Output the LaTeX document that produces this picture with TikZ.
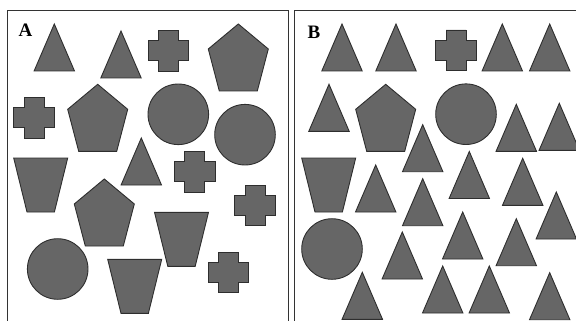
\documentclass[tikz,border=0pt]{standalone}
\usepackage{fontspec}
\setmainfont{Liberation Serif}
\usepackage{xcolor}
\usepackage{tikz}
\definecolor{ShapeFill}{HTML}{666666}
\definecolor{ShapeEdge}{HTML}{2E2E2E}
\definecolor{FrameEdge}{HTML}{333333}
\tikzset{
  figure/.style={draw=ShapeEdge,fill=ShapeFill,line width=0.9pt,line join=miter},
  frame/.style={draw=FrameEdge,line width=1pt},
  panel/.style={font=\fontsize{19}{19}\selectfont\bfseries,inner sep=0pt},
  tri/.pic={\path[figure] (0,0) -- (-20.2,47) -- (20.2,47) -- cycle;},
  plus/.pic={\path[figure] (-10,-20.3) -- (10,-20.3) -- (10,-10) -- (20.3,-10) -- (20.3,10)
    -- (10,10) -- (10,20.3) -- (-10,20.3) -- (-10,10) -- (-20.3,10) -- (-20.3,-10)
    -- (-10,-10) -- cycle;},
  penta/.pic={\path[figure] (0,0) -- (30,25) -- (19,67) -- (-19,67) -- (-30,25) -- cycle;},
  trap/.pic={\path[figure] (-27,0) -- (27,0) -- (13.7,54) -- (-13.7,54) -- cycle;},
  disc/.pic={\path[figure] (0,0) circle (30.3);}
}

\begin{document}
\begin{tikzpicture}[x=1pt,y=-1pt]
  \useasboundingbox (0,0) rectangle (576,321);
  % frames
  \draw[frame] (7.3,321) -- (7.3,10.7) -- (288.7,10.7) -- (288.7,321);
  \draw[frame] (294.7,321) -- (294.7,10.7) -- (577,10.7);
  \node[panel] (labA) at (25.5,30.5) {A};
  \node[panel] (labB) at (314,32.5) {B};
  % panel A
  \pic at (54.3,24) {tri};
  \pic at (121,31) {tri};
  \pic at (168.3,50.7) {plus};
  \pic at (238.3,24) {penta};
  \pic at (34.2,117.8) {plus};
  \pic at (97.7,84.3) {penta};
  \pic at (178.3,114.3) {disc};
  \pic at (245,134.7) {disc};
  \pic at (40.7,158) {trap};
  \pic at (141.3,138) {tri};
  \pic at (194.8,171.8) {plus};
  \pic at (255.2,205.5) {plus};
  \pic at (104.3,179) {penta};
  \pic at (181.5,212.3) {trap};
  \pic at (57.7,269) {disc};
  \pic at (134.7,259.3) {trap};
  \pic at (228.3,272.5) {plus};
  % panel B
  \foreach \x/\y in {342/24,396/24,502.3/24,549.7/24,329/84.3,516.3/104.3,559.3/103.3,
    422.7/124.7,375.7/165,469.3/151.5,522.7/158.3,422.7/178.7,556.3/192,462.7/212,
    516.3/218.7,402.3/232,362.3/272.3,442.7/266,489.3/266,549.7/272.7}
    \pic at (\x,\y) {tri};
  \pic at (456,50.3) {plus};
  \pic at (385.7,84.3) {penta};
  \pic at (466,114.2) {disc};
  \pic at (328.7,158) {trap};
  \pic at (332,249) {disc};
\end{tikzpicture}
\end{document}
